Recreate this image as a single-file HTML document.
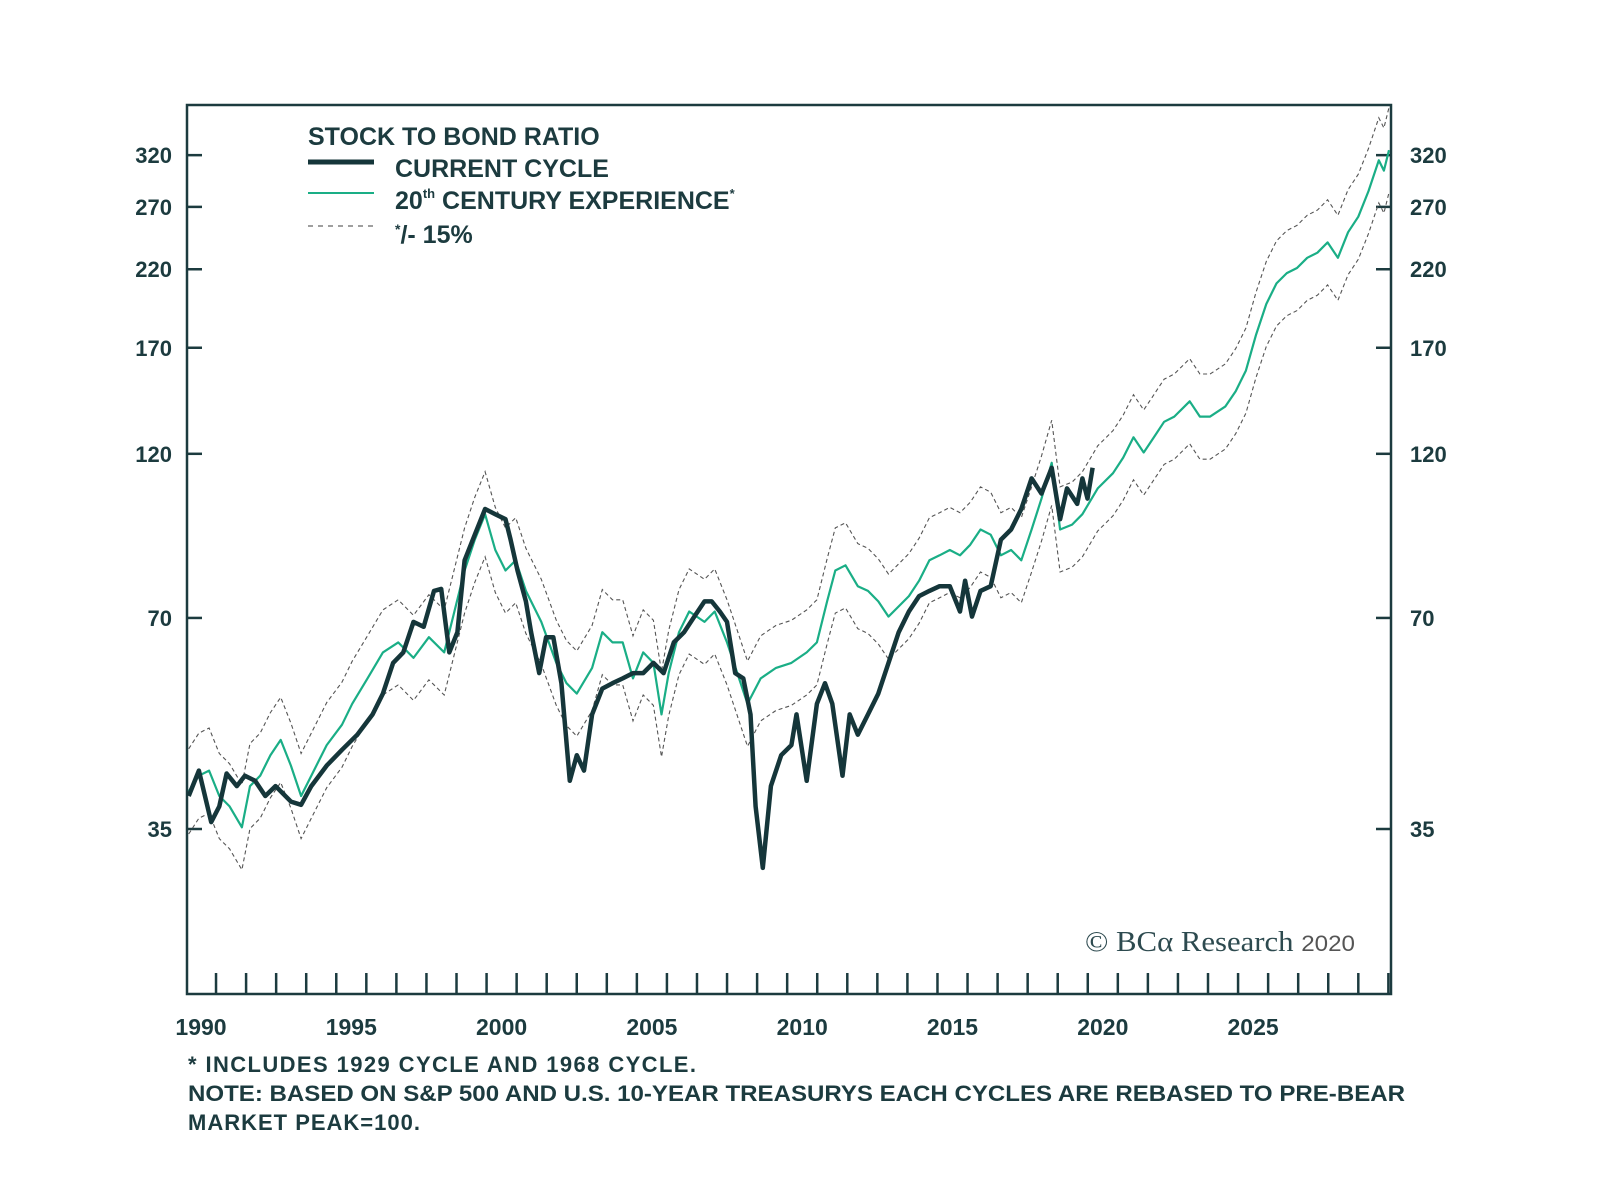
<!DOCTYPE html>
<html><head><meta charset="utf-8">
<style>
html,body{margin:0;padding:0;background:#fff;}
svg{display:block;}
text{font-family:"Liberation Sans",sans-serif;fill:#1c3b3f;}
</style></head>
<body>
<svg id="chart" width="1600" height="1198" viewBox="0 0 1600 1198">
  <rect x="187" y="105" width="1204" height="889" fill="none" stroke="#1c3b3f" stroke-width="2.5"/>
  <g id="ticks"></g>
  <g id="series"></g>
  <g>
    <text x="308" y="145" font-size="25" font-weight="bold">STOCK TO BOND RATIO</text>
    <line x1="308" y1="162" x2="374" y2="162" stroke="#15363a" stroke-width="5"/>
    <text x="395" y="177" font-size="25" font-weight="bold">CURRENT CYCLE</text>
    <line x1="308" y1="193" x2="374" y2="193" stroke="#1aae86" stroke-width="2"/>
    <text x="395" y="209" font-size="25" font-weight="bold">20<tspan font-size="13" dy="-11">th</tspan><tspan dy="11"> CENTURY EXPERIENCE</tspan><tspan font-size="13" dy="-11">*</tspan></text>
    <line x1="308" y1="226" x2="374" y2="226" stroke="#666" stroke-width="1.2" stroke-dasharray="5,5"/>
    <text x="395" y="243" font-size="25" font-weight="bold"><tspan font-size="14" dy="-9">*</tspan><tspan dy="9">/- 15%</tspan></text>
  </g>
  <text x="1085" y="951" font-size="28" textLength="270" lengthAdjust="spacingAndGlyphs" style="font-family:'Liberation Serif',serif;fill:#2d4a4f">© BCα Research <tspan font-size="22" style="font-family:'Liberation Sans',sans-serif;fill:#555">2020</tspan></text>
  <g>
    <text x="188" y="1072" font-size="22" font-weight="bold" textLength="508">* INCLUDES 1929 CYCLE AND 1968 CYCLE.</text>
    <text x="188" y="1101" font-size="22" font-weight="bold" textLength="1217" lengthAdjust="spacingAndGlyphs">NOTE: BASED ON S&amp;P 500 AND U.S. 10-YEAR TREASURYS EACH CYCLES ARE REBASED TO PRE-BEAR</text>
    <text x="188" y="1130" font-size="22" font-weight="bold" textLength="232">MARKET PEAK=100.</text>
  </g>
</svg>
<script>
const yTickValues = [320, 270, 220, 170, 120, 70, 35];
const xTickLabels = [1990, 1995, 2000, 2005, 2010, 2015, 2020, 2025];
const currentYears = [1989.59,1989.93,1990.34,1990.61,1990.85,1991.19,1991.46,1991.80,1992.14,1992.48,
1992.99,1993.33,1993.67,1994.18,1994.69,1995.20,1995.71,1996.05,1996.39,1996.73,
1997.07,1997.41,1997.75,1997.99,1998.26,1998.53,1998.77,1999.11,1999.45,1999.79,
2000.13,2000.30,2000.53,2000.81,2000.98,2001.25,2001.48,2001.72,2001.99,2002.27,
2002.50,2002.74,2003.01,2003.35,2003.69,2004.03,2004.37,2004.71,2005.05,2005.39,
2005.73,2006.07,2006.41,2006.75,2006.99,2007.26,2007.50,2007.77,2008.04,2008.28,
2008.45,2008.69,2008.96,2009.30,2009.64,2009.81,2010.15,2010.49,2010.76,2011.00,
2011.34,2011.58,2011.85,2012.19,2012.53,2012.87,2013.21,2013.55,2013.89,2014.23,
2014.57,2014.91,2015.25,2015.42,2015.65,2015.93,2016.27,2016.61,2016.95,2017.29,
2017.63,2017.96,2018.30,2018.58,2018.81,2019.15,2019.32,2019.49,2019.66];
const currentValues = [39.0,42.4,35.8,37.7,42.0,40.3,41.7,41.0,39.0,40.3,
38.3,37.9,40.3,43.1,45.4,47.7,51.0,54.6,60.4,62.5,
69.1,68.0,76.5,77.0,62.5,66.8,84.6,92.0,100.1,98.4,
96.8,90.5,81.8,73.9,66.8,58.4,65.7,65.7,56.5,41.0,
44.6,42.4,51.0,55.5,56.5,57.4,58.4,58.4,60.4,58.4,
64.6,66.8,70.3,73.9,73.9,71.5,69.1,58.4,57.4,51.0,
37.7,30.8,40.3,44.6,46.1,51.0,41.0,52.8,56.5,52.8,
41.7,51.0,47.7,51.0,54.6,60.4,66.8,71.5,75.2,76.5,
77.7,77.7,71.5,79.1,70.3,76.5,77.7,90.5,93.6,100.1,
110.7,105.3,114.6,96.8,107.1,101.8,110.7,103.6,114.6];
const centuryYears = [1989.59,1989.93,1990.27,1990.61,1990.95,1991.36,1991.63,1991.97,1992.31,1992.65,
1992.99,1993.33,1993.67,1994.18,1994.69,1995.03,1995.54,1996.05,1996.56,1997.07,
1997.58,1998.09,1998.43,1998.77,1999.11,1999.45,1999.79,2000.13,2000.47,2000.81,
2001.32,2001.82,2002.16,2002.50,2003.01,2003.35,2003.69,2004.03,2004.37,2004.71,
2005.05,2005.32,2005.56,2005.90,2006.24,2006.75,2007.09,2007.50,2007.84,2008.18,
2008.62,2009.13,2009.64,2010.15,2010.49,2010.83,2011.10,2011.44,2011.85,2012.19,
2012.53,2012.87,2013.21,2013.55,2013.89,2014.23,2014.57,2014.91,2015.25,2015.59,
2015.93,2016.27,2016.61,2016.95,2017.29,2017.63,2017.96,2018.30,2018.58,2018.98,
2019.32,2019.83,2020.34,2020.68,2021.02,2021.36,2021.70,2022.04,2022.38,2022.89,
2023.23,2023.57,2024.08,2024.42,2024.76,2025.10,2025.44,2025.78,2026.12,2026.46,
2026.80,2027.14,2027.48,2027.82,2028.16,2028.50,2028.84,2029.18,2029.35,2029.52];
const centuryValues = [39.6,41.7,42.4,39.0,37.7,35.2,40.3,41.7,44.6,46.9,
43.1,39.0,41.7,46.1,49.3,52.8,57.4,62.5,64.6,61.4,
65.7,62.5,71.5,81.8,90.5,98.4,87.5,81.8,84.6,76.5,
69.1,60.4,56.5,54.6,59.4,66.8,64.6,64.6,57.4,62.5,
60.4,51.0,58.4,66.8,71.5,69.1,71.5,64.6,58.4,52.8,
57.4,59.4,60.4,62.5,64.6,73.9,81.8,83.2,77.7,76.5,
73.9,70.3,72.7,75.2,79.1,84.6,86.0,87.5,86.0,89.0,
93.6,92.0,86.0,87.5,84.6,93.6,103.6,116.5,93.6,95.1,
98.4,107.1,112.6,118.5,126.7,120.5,126.7,133.3,135.6,142.6,
135.6,135.6,140.2,147.4,157.7,177.5,196.3,210.0,217.2,220.9,
228.4,232.3,240.3,228.4,248.5,261.4,284.4,314.6,304.2,325.4];
const bandFactor = 1.15;

const NS = 'http://www.w3.org/2000/svg';
function x(year){ return 201 + (year - 1990) * 30.06; }
function y(v){ return 829 - 304.5 * Math.log(v / 35); }
function mk(tag, attrs, parent){
  const e = document.createElementNS(NS, tag);
  for (const k in attrs) e.setAttribute(k, attrs[k]);
  parent.appendChild(e); return e;
}
const ticks = document.getElementById('ticks');
const series = document.getElementById('series');
const C = '#1c3b3f';

yTickValues.forEach(v => {
  const yy = y(v);
  const l1 = mk('line', {x1:187, x2:202, y1:yy, y2:yy, stroke:C, 'stroke-width':2.5}, ticks);
  
  
  const l2 = mk('line', {x1:1376, x2:1391, y1:yy, y2:yy, stroke:C, 'stroke-width':2.5}, ticks);
  
  
  const t1 = mk('text', {x:172, y:yy+8, 'text-anchor':'end', 'font-size':22, 'font-weight':'bold'}, ticks);
  t1.textContent = v;
  
  
  const t2 = mk('text', {x:1410, y:yy+8, 'font-size':22, 'font-weight':'bold'}, ticks);
  t2.textContent = v;
  
  
});
for (let yr = 1990.5; yr <= 2029.6; yr += 1) {
  const xx = x(yr);
  const t = mk('line', {x1:xx, x2:xx, y1:973, y2:994, stroke:C, 'stroke-width':2.5}, ticks);
  
  
}
xTickLabels.forEach(yr => {
  const t = mk('text', {x:x(yr), y:1035, 'text-anchor':'middle', 'font-size':23, 'font-weight':'bold'}, ticks);
  t.textContent = yr;
  
  
});

function pathOf(xs, vs, f){
  let d = '';
  for (let i = 0; i < Math.min(xs.length, vs.length); i++)
    d += (i ? 'L' : 'M') + x(xs[i]).toFixed(1) + ',' + y(vs[i] * f).toFixed(1);
  return d;
}
const up = mk('path', {d:pathOf(centuryYears, centuryValues, bandFactor), fill:'none', stroke:'#555', 'stroke-width':1.1, 'stroke-dasharray':'4,3'}, series);


const lo = mk('path', {d:pathOf(centuryYears, centuryValues, 1/bandFactor), fill:'none', stroke:'#555', 'stroke-width':1.1, 'stroke-dasharray':'4,3'}, series);


const g = mk('path', {d:pathOf(centuryYears, centuryValues, 1), fill:'none', stroke:'#1aae86', 'stroke-width':2.2, 'stroke-linejoin':'round'}, series);


const c = mk('path', {d:pathOf(currentYears, currentValues, 1), fill:'none', stroke:'#15363a', 'stroke-width':4.5, 'stroke-linejoin':'round'}, series);


</script>
</body></html>
